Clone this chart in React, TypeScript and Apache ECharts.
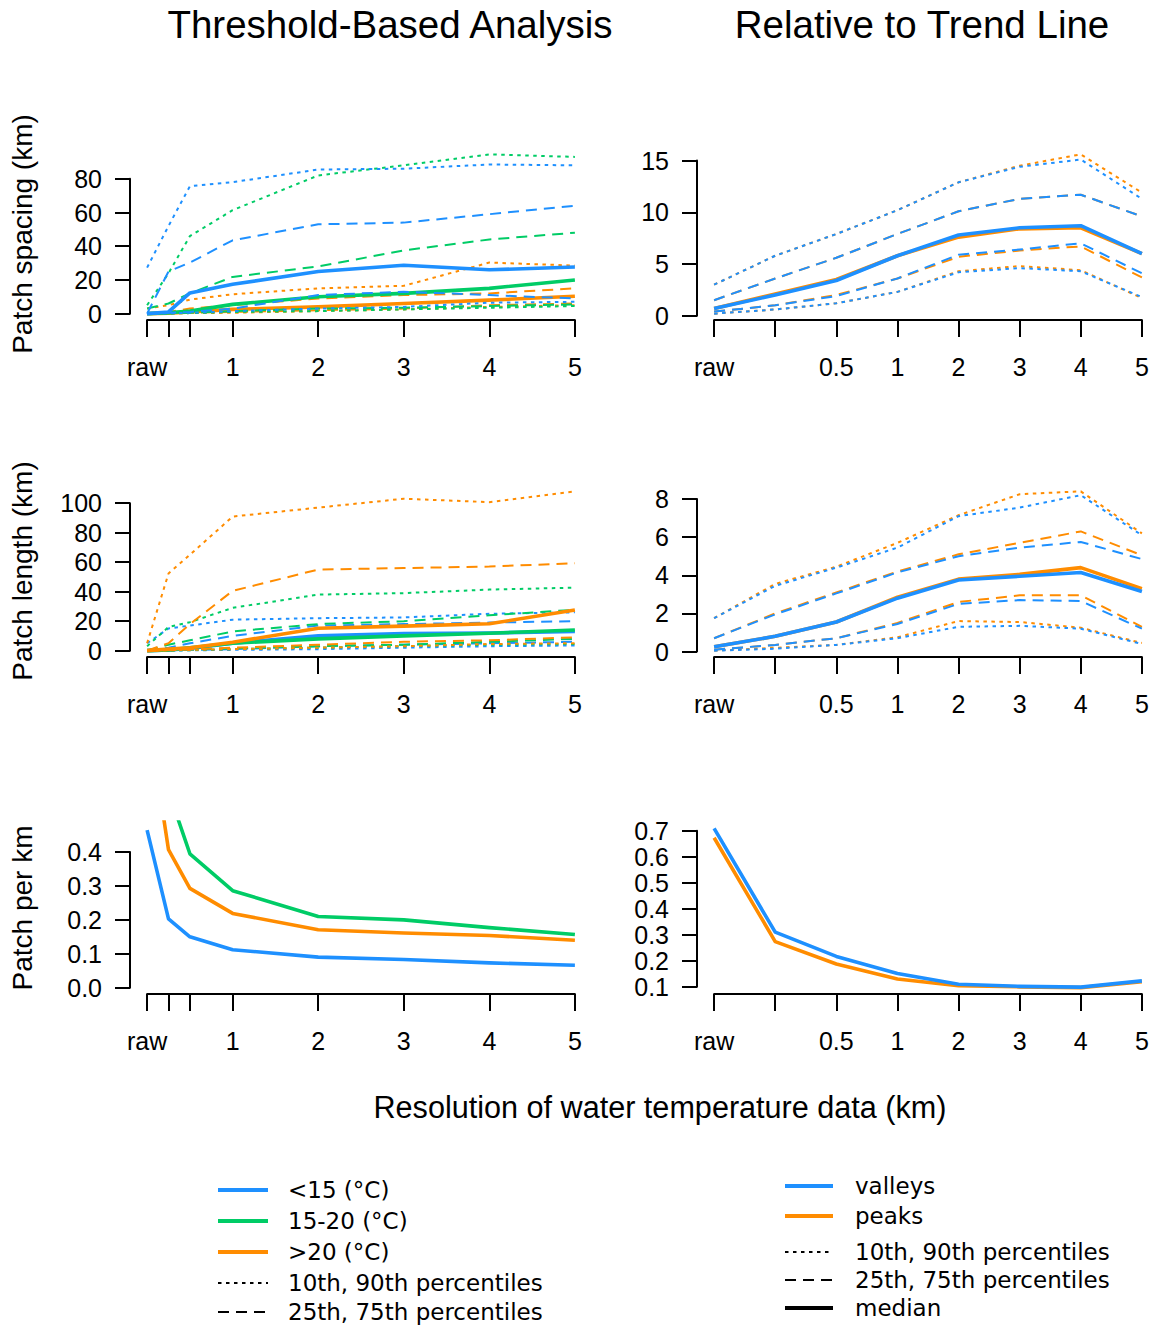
import React, { useEffect, useRef } from "react";
import * as echarts from "echarts";

// ---------- colours ----------
const BLUE = "#1E90FF";
const GREEN = "#00CC66";
const ORANGE = "#FF8C00";

// ---------- x positions / tick labels ----------
const leftX = [0, 0.25, 0.5, 1, 2, 3, 4, 5];
const leftTickValues = [0, 0.25, 0.5, 1, 2, 3, 4, 5];
const leftLabelValues = [0, 1, 2, 3, 4, 5];
const rightCategories = ["raw", "", "0.5", "1", "2", "3", "4", "5"];

// ---------- Threshold-based: patch spacing (km) ----------
const spBlueP10 = [0, 0.2, 0.5, 1.5, 3, 4, 6.5, 7];
const spBlueP25 = [0, 0.5, 1, 3, 11, 13, 11, 9];
const spBlueMed = [0, 1, 12.3, 17.4, 25, 28.7, 26, 27.7];
const spBlueP75 = [0, 25, 30.3, 43.5, 53, 54, 59, 64];
const spBlueP90 = [27.3, 52, 75.6, 78, 85.5, 86, 88.5, 88];
const spGreenP10 = [0, 0.1, 0.3, 1, 1.5, 2.5, 3.5, 4.5];
const spGreenP25 = [0, 0.2, 0.5, 1.5, 3, 3.5, 4.5, 5.5];
const spGreenMed = [0, 0.5, 1.5, 5.5, 10, 12, 15, 20];
const spGreenP75 = [3, 6, 12, 21.8, 28, 37.5, 44, 48];
const spGreenP90 = [5, 24, 46, 61.4, 82, 88, 94.5, 93];
const spOrangeP10 = [0, 0.1, 0.3, 0.5, 1.5, 2.5, 4, 5];
const spOrangeP25 = [0, 0.2, 0.5, 1, 2, 3, 5, 6];
const spOrangeMed = [0, 0.3, 1, 2.5, 4, 6, 8, 10.3];
const spOrangeP75 = [0, 1, 3, 5, 9, 11, 12, 15];
const spOrangeP90 = [3, 5, 8.3, 11.5, 15, 16.5, 30.3, 28.5];

// ---------- Threshold-based: patch length (km) ----------
const lnBlueP10 = [0, 0.1, 0.2, 0.5, 1, 2, 3, 3.5];
const lnBlueP25 = [0, 0.2, 0.5, 1, 3, 4, 5, 6];
const lnBlueMed = [0, 0.5, 1.5, 5, 10, 11.5, 12, 13];
const lnBlueP75 = [0, 2, 5, 10, 17, 18, 19, 20];
const lnBlueP90 = [5, 15, 17, 21, 22, 22.5, 25, 26];
const lnGreenP10 = [0, 0.1, 0.3, 1, 2, 3, 4, 4.5];
const lnGreenP25 = [0, 0.3, 0.7, 1.5, 3, 4, 6, 8];
const lnGreenMed = [0, 0.5, 2, 5, 8, 10, 11.8, 14];
const lnGreenP75 = [0, 4, 7, 13, 18, 20, 24, 27.7];
const lnGreenP90 = [3, 16, 19.3, 29, 38, 39, 41.4, 42.7];
const lnOrangeP10 = [0, 0.2, 0.5, 1, 2, 3, 4.5, 5];
const lnOrangeP25 = [0, 0.3, 0.8, 2, 4, 6, 7, 9];
const lnOrangeMed = [0, 1, 2, 5.7, 15.2, 16.6, 18.2, 27.5];
const lnOrangeP75 = [0, 5, 18, 40.5, 55, 56, 57, 59.3];
const lnOrangeP90 = [5, 52.3, 65, 90.9, 97, 103, 100.7, 108];

// ---------- Threshold-based: patch per km ----------
const pkBlue = [0.465, 0.203, 0.15, 0.112, 0.09, 0.083, 0.073, 0.066];
const pkGreen = [1.1, 0.58, 0.395, 0.286, 0.21, 0.2, 0.177, 0.157];
const pkOrange = [0.82, 0.407, 0.293, 0.219, 0.171, 0.161, 0.154, 0.14];

// ---------- Relative to trend line: spacing ----------
const rsValP10 = [0.2, 0.6, 1.2, 2.3, 4.2, 4.6, 4.3, 1.8];
const rsValP25 = [0.4, 1.0, 1.9, 3.6, 5.9, 6.4, 7.0, 4.1];
const rsValMed = [0.7, 2.0, 3.4, 5.8, 7.8, 8.5, 8.7, 6.0];
const rsValP75 = [1.5, 3.6, 5.6, 7.9, 10.1, 11.3, 11.7, 9.6];
const rsValP90 = [3.0, 5.8, 7.9, 10.2, 12.9, 14.4, 15.1, 11.3];
const rsPeakP10 = [0.2, 0.6, 1.2, 2.3, 4.3, 4.8, 4.4, 1.7];
const rsPeakP25 = [0.4, 1.0, 2.0, 3.6, 5.7, 6.3, 6.7, 3.7];
const rsPeakMed = [0.7, 2.1, 3.5, 5.8, 7.6, 8.4, 8.5, 6.0];
const rsPeakP75 = [1.5, 3.6, 5.6, 7.9, 10.1, 11.3, 11.7, 9.6];
const rsPeakP90 = [3.0, 5.8, 7.9, 10.2, 12.9, 14.5, 15.6, 11.9];

// ---------- Relative to trend line: length ----------
const rlValP10 = [0.05, 0.15, 0.35, 0.7, 1.3, 1.35, 1.2, 0.4];
const rlValP25 = [0.1, 0.35, 0.7, 1.45, 2.5, 2.7, 2.65, 1.2];
const rlValMed = [0.25, 0.8, 1.55, 2.8, 3.75, 3.95, 4.15, 3.15];
const rlValP75 = [0.7, 1.95, 3.05, 4.15, 5.0, 5.45, 5.75, 4.85];
const rlValP90 = [1.75, 3.45, 4.4, 5.45, 7.1, 7.55, 8.2, 6.1];
const rlPeakP10 = [0.05, 0.2, 0.35, 0.75, 1.6, 1.55, 1.25, 0.45];
const rlPeakP25 = [0.1, 0.35, 0.7, 1.5, 2.6, 2.95, 2.95, 1.3];
const rlPeakMed = [0.25, 0.8, 1.55, 2.85, 3.8, 4.05, 4.4, 3.3];
const rlPeakP75 = [0.7, 2.0, 3.1, 4.2, 5.1, 5.7, 6.3, 5.05];
const rlPeakP90 = [1.75, 3.55, 4.45, 5.7, 7.15, 8.25, 8.4, 6.2];

// ---------- Relative to trend line: per km ----------
const rkVal = [0.709, 0.31, 0.217, 0.151, 0.11, 0.102, 0.099, 0.123];
const rkPeak = [0.673, 0.274, 0.188, 0.13, 0.104, 0.1, 0.097, 0.12];

// ---------- texts ----------
const colTitles = ["Threshold-Based Analysis", "Relative to Trend Line"];
const rowNames = ["Patch spacing (km)", "Patch length (km)", "Patch per km"];
const xTitle = "Resolution of water temperature data (km)";
const leftLegend = ["<15 (\u00B0C)", "15-20 (\u00B0C)", ">20 (\u00B0C)", "10th, 90th percentiles", "25th, 75th percentiles"];
const rightLegend = ["valleys", "peaks", "10th, 90th percentiles", "25th, 75th percentiles", "median"];

// ---------- styles ----------
const DOT: number[] = [3.5, 4.5];
const DASH: number[] = [11, 7];
const AXIS_FONT = "Liberation Sans, Arial, sans-serif";
const LEG_FONT = "DejaVu Sans, Verdana, sans-serif";

type S = { v: number[]; c: string; kind: "p" | "d" | "m" };
const grp = (c: string, p10: number[], p25: number[], med: number[], p75: number[], p90: number[]): S[] => [
  { v: p10, c, kind: "p" },
  { v: p90, c, kind: "p" },
  { v: p25, c, kind: "d" },
  { v: p75, c, kind: "d" },
  { v: med, c, kind: "m" },
];

type Panel = {
  row: number;
  col: number;
  series: S[];
  ticks: [number, number, number];
  dec: number;
  yRange?: [number, number];
};

const panels: Panel[] = [
  {
    row: 0, col: 0, ticks: [0, 80, 20], dec: 0,
    series: [
      ...grp(ORANGE, spOrangeP10, spOrangeP25, spOrangeMed, spOrangeP75, spOrangeP90),
      ...grp(GREEN, spGreenP10, spGreenP25, spGreenMed, spGreenP75, spGreenP90),
      ...grp(BLUE, spBlueP10, spBlueP25, spBlueMed, spBlueP75, spBlueP90),
    ],
  },
  {
    row: 0, col: 1, ticks: [0, 15, 5], dec: 0,
    series: [
      ...grp(ORANGE, rsPeakP10, rsPeakP25, rsPeakMed, rsPeakP75, rsPeakP90),
      ...grp(BLUE, rsValP10, rsValP25, rsValMed, rsValP75, rsValP90),
    ],
  },
  {
    row: 1, col: 0, ticks: [0, 100, 20], dec: 0,
    series: [
      ...grp(BLUE, lnBlueP10, lnBlueP25, lnBlueMed, lnBlueP75, lnBlueP90),
      ...grp(GREEN, lnGreenP10, lnGreenP25, lnGreenMed, lnGreenP75, lnGreenP90),
      ...grp(ORANGE, lnOrangeP10, lnOrangeP25, lnOrangeMed, lnOrangeP75, lnOrangeP90),
    ],
  },
  {
    row: 1, col: 1, ticks: [0, 8, 2], dec: 0,
    series: [
      ...grp(ORANGE, rlPeakP10, rlPeakP25, rlPeakMed, rlPeakP75, rlPeakP90),
      ...grp(BLUE, rlValP10, rlValP25, rlValMed, rlValP75, rlValP90),
    ],
  },
  {
    row: 2, col: 0, ticks: [0, 0.4, 0.1], dec: 1, yRange: [0, 0.47],
    series: [
      { v: pkBlue, c: BLUE, kind: "m" },
      { v: pkOrange, c: ORANGE, kind: "m" },
      { v: pkGreen, c: GREEN, kind: "m" },
    ],
  },
  {
    row: 2, col: 1, ticks: [0.1, 0.7, 0.1], dec: 1,
    series: [
      { v: rkPeak, c: ORANGE, kind: "m" },
      { v: rkVal, c: BLUE, kind: "m" },
    ],
  },
];

// ---------- layout ----------
const W = 1155;
const H = 1327;
const PLOT_W = 462;
const PLOT_H = 172;
const COL_LEFT = [130, 697];
const ROW_TOP = [148, 485, 822];

const rExtend = (r: [number, number]): [number, number] => {
  const d = (r[1] - r[0]) * 0.04;
  return [r[0] - d, r[1] + d];
};

function buildOption() {
  const grid: any[] = [];
  const xAxis: any[] = [];
  const yAxis: any[] = [];
  const series: any[] = [];
  const graphic: any[] = [];

  const axisLineStyle = { color: "#000", width: 2 };
  const labelStyle = { color: "#000", fontSize: 25, fontFamily: AXIS_FONT };

  panels.forEach((p) => {
    const left = COL_LEFT[p.col];
    const top = ROW_TOP[p.row];
    const isLeft = p.col === 0;
    const xs = isLeft ? leftX : rightCategories.map((_, i) => i);
    const xlim = rExtend([xs[0], xs[xs.length - 1]]);
    const all = p.series.flatMap((s) => s.v);
    const ylim = rExtend(p.yRange ?? [Math.min(...all), Math.max(...all)]);
    const yPix = (v: number) => top + ((ylim[1] - v) / (ylim[1] - ylim[0])) * PLOT_H;
    const xPix = (v: number) => left + ((v - xlim[0]) / (xlim[1] - xlim[0])) * PLOT_W;

    // ---- data grid ----
    const gData = grid.length;
    grid.push({ left, top, width: PLOT_W, height: PLOT_H, outerBoundsMode: "none", containLabel: false });
    xAxis.push({ gridIndex: gData, type: "value", min: xlim[0], max: xlim[1], show: false });
    yAxis.push({
      gridIndex: gData,
      type: "value",
      min: ylim[0],
      max: ylim[1],
      axisLine: { show: false },
      axisTick: { show: false },
      axisLabel: { show: false },
      splitLine: { show: false },
      name: isLeft ? rowNames[p.row] : "",
      nameLocation: "middle",
      nameGap: 94,
      nameTextStyle: { color: "#000", fontSize: 28, fontFamily: AXIS_FONT },
    });
    const xi = xAxis.length - 1;
    const yi = yAxis.length - 1;
    p.series.forEach((s) => {
      series.push({
        type: "line",
        xAxisIndex: xi,
        yAxisIndex: yi,
        data: s.v.map((v, i) => [xs[i], v]),
        symbol: "none",
        clip: true,
        silent: true,
        lineStyle: {
          color: s.c,
          width: s.kind === "m" ? 3.6 : 2,
          type: s.kind === "p" ? DOT : s.kind === "d" ? DASH : "solid",
          cap: "butt",
          join: "round",
        },
      });
    });

    // ---- y-axis (R style, spans tick range only) ----
    const [tMin, tMax, tInt] = p.ticks;
    const gY = grid.length;
    grid.push({
      left,
      width: 10,
      top: yPix(tMax),
      height: yPix(tMin) - yPix(tMax),
      outerBoundsMode: "none",
      containLabel: false,
    });
    xAxis.push({ gridIndex: gY, type: "value", min: 0, max: 1, show: false });
    yAxis.push({
      gridIndex: gY,
      type: "value",
      position: "left",
      min: tMin,
      max: tMax,
      interval: tInt,
      axisLine: { show: true, onZero: false, lineStyle: axisLineStyle },
      axisTick: { show: true, inside: false, length: 15, lineStyle: axisLineStyle },
      axisLabel: {
        ...labelStyle,
        margin: 28,
        formatter: (v: number) => v.toFixed(p.dec),
      },
      splitLine: { show: false },
    });

    // ---- x-axis (R style) ----
    const gX = grid.length;
    const x0 = xPix(xs[0]);
    const x1 = xPix(xs[xs.length - 1]);
    grid.push({
      left: x0,
      width: x1 - x0,
      top: top + PLOT_H - 10,
      height: 10,
      outerBoundsMode: "none",
      containLabel: false,
    });
    if (isLeft) {
      xAxis.push({
        gridIndex: gX,
        type: "value",
        position: "bottom",
        min: leftX[0],
        max: leftX[leftX.length - 1],
        axisLine: { show: true, onZero: false, lineStyle: axisLineStyle },
        axisTick: { show: true, inside: false, length: 17, lineStyle: axisLineStyle, customValues: leftTickValues },
        axisLabel: {
          ...labelStyle,
          margin: 34,
          customValues: leftLabelValues,
          formatter: (v: number) => (v === 0 ? "raw" : String(v)),
        },
        splitLine: { show: false },
      });
    } else {
      xAxis.push({
        gridIndex: gX,
        type: "category",
        position: "bottom",
        data: rightCategories,
        boundaryGap: false,
        axisLine: { show: true, onZero: false, lineStyle: axisLineStyle },
        axisTick: { show: true, inside: false, length: 17, lineStyle: axisLineStyle, interval: 0 },
        axisLabel: { ...labelStyle, margin: 34, interval: 0 },
        splitLine: { show: false },
      });
    }
    yAxis.push({ gridIndex: gX, type: "value", min: 0, max: 1, show: false });
  });

  // ---- titles ----
  const titleX = [390, 922];
  colTitles.forEach((t, i) => {
    graphic.push({
      type: "text",
      x: titleX[i],
      y: 24,
      style: { text: t, fill: "#000", font: `38.5px ${AXIS_FONT}`, textAlign: "center", verticalAlign: "middle" },
    });
  });
  graphic.push({
    type: "text",
    x: 660,
    y: 1107,
    style: { text: xTitle, fill: "#000", font: `30.6px ${AXIS_FONT}`, textAlign: "center", verticalAlign: "middle" },
  });

  // ---- legends ----
  const legItem = (x1: number, x2: number, tx: number, y: number, label: string, color: string, width: number, dash: any) => {
    graphic.push({
      type: "line",
      shape: { x1, y1: y, x2, y2: y },
      style: { stroke: color, lineWidth: width, lineDash: dash, lineCap: "butt" },
    });
    graphic.push({
      type: "text",
      x: tx,
      y,
      style: { text: label, fill: "#000", font: `23px ${LEG_FONT}`, textAlign: "left", verticalAlign: "middle" },
    });
  };
  const leftRows = [1190, 1221, 1252, 1283, 1312];
  const leftStyles: [string, number, any][] = [
    [BLUE, 4, null],
    [GREEN, 4, null],
    [ORANGE, 4, null],
    ["#000", 2, DOT],
    ["#000", 2, DASH],
  ];
  leftLegend.forEach((t, i) => legItem(218, 268, 288, leftRows[i], t, leftStyles[i][0], leftStyles[i][1], leftStyles[i][2]));
  const rightRows = [1186, 1216, 1252, 1280, 1308];
  const rightStyles: [string, number, any][] = [
    [BLUE, 4, null],
    [ORANGE, 4, null],
    ["#000", 2, DOT],
    ["#000", 2, DASH],
    ["#000", 4, null],
  ];
  rightLegend.forEach((t, i) => legItem(785, 833, 855, rightRows[i], t, rightStyles[i][0], rightStyles[i][1], rightStyles[i][2]));

  return {
    animation: false,
    backgroundColor: "#fff",
    grid,
    xAxis,
    yAxis,
    series,
    graphic,
  };
}

export default function App() {
  const ref = useRef<HTMLDivElement>(null);
  useEffect(() => {
    if (!ref.current) return;
    const chart = echarts.init(ref.current, undefined, { renderer: "svg" });
    chart.setOption(buildOption() as any);
    return () => chart.dispose();
  }, []);
  return <div ref={ref} style={{ position: "absolute", left: 0, top: 0, width: W, height: H }} />;
}
